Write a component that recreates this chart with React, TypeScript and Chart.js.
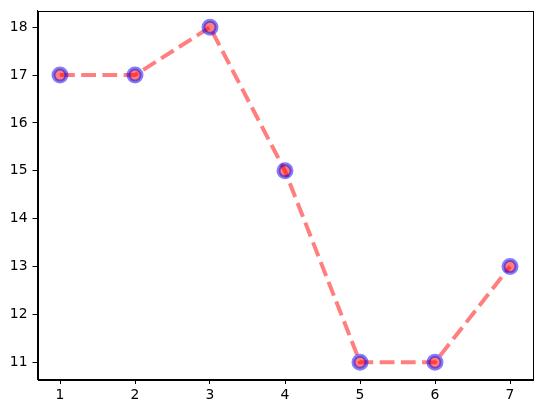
import React, { useEffect, useRef } from "react";
import { Chart, registerables } from "chart.js";

Chart.register(...registerables);

const xValues = [1, 2, 3, 4, 5, 6, 7];
const yValues = [17, 17, 18, 15, 11, 11, 13];
const xTickValues = [1, 2, 3, 4, 5, 6, 7];
const yTickValues = [11, 12, 13, 14, 15, 16, 17, 18];

const framePlugin = {
  id: "frame",
  afterDraw(chart: any) {
    const { ctx, chartArea } = chart;
    ctx.save();
    ctx.strokeStyle = "#000";
    ctx.lineWidth = 1;
    ctx.strokeRect(
      Math.round(chartArea.left) + 0.5,
      Math.round(chartArea.top) + 0.5,
      Math.round(chartArea.right - chartArea.left),
      Math.round(chartArea.bottom - chartArea.top)
    );
    ctx.restore();
  },
};

export default function App() {
  const ref = useRef<HTMLCanvasElement | null>(null);
  useEffect(() => {
    if (!ref.current) return;
    const font = { family: "DejaVu Sans", size: 13.9 };
    const chart = new Chart(ref.current, {
      type: "line",
      data: {
        datasets: [
          {
            data: xValues.map((x, i) => ({ x, y: yValues[i] })),
            borderColor: "rgba(255,0,0,0.5)",
            borderWidth: 4,
            borderDash: [14.8, 6.4],
            pointRadius: 6.5,
            pointBorderWidth: 4,
            pointBackgroundColor: "rgba(255,0,0,0.5)",
            pointBorderColor: "rgba(0,0,255,0.5)",
            tension: 0,
            fill: false,
          },
        ],
      },
      options: {
        animation: false,
        responsive: false,
        events: [],
        layout: { padding: { top: 9.2, right: 9.5, left: 0, bottom: 0 } },
        plugins: { legend: { display: false }, tooltip: { enabled: false } },
        scales: {
          x: {
            type: "linear",
            min: 0.7,
            max: 7.3,
            afterBuildTicks: (s: any) => {
              s.ticks = xTickValues.map((v) => ({ value: v }));
            },
            afterFit: (s: any) => {
              s.height = 34;
              s.paddingLeft = 0;
              s.paddingRight = 0;
            },
            grid: { drawOnChartArea: false, drawTicks: true, tickLength: 5, color: "#000", tickColor: "#000" },
            border: { display: true, color: "#000" },
            ticks: { color: "#000", font, padding: 3, maxRotation: 0, autoSkip: false },
          },
          y: {
            type: "linear",
            min: 10.65,
            max: 18.35,
            afterBuildTicks: (s: any) => {
              s.ticks = yTickValues.map((v) => ({ value: v }));
            },
            afterFit: (s: any) => {
              s.width = 37.5;
              s.paddingTop = 0;
              s.paddingBottom = 0;
            },
            grid: { drawOnChartArea: false, drawTicks: true, tickLength: 5, color: "#000", tickColor: "#000" },
            border: { display: true, color: "#000" },
            ticks: { color: "#000", font, padding: 5, autoSkip: false },
          },
        },
      },
      plugins: [framePlugin],
    });
    return () => chart.destroy();
  }, []);
  return (
    <div style={{ position: "fixed", left: 0, top: 0, width: 543, height: 413, background: "#fff" }}>
      <canvas ref={ref} width={543} height={413} style={{ width: 543, height: 413, display: "block" }} />
    </div>
  );
}
